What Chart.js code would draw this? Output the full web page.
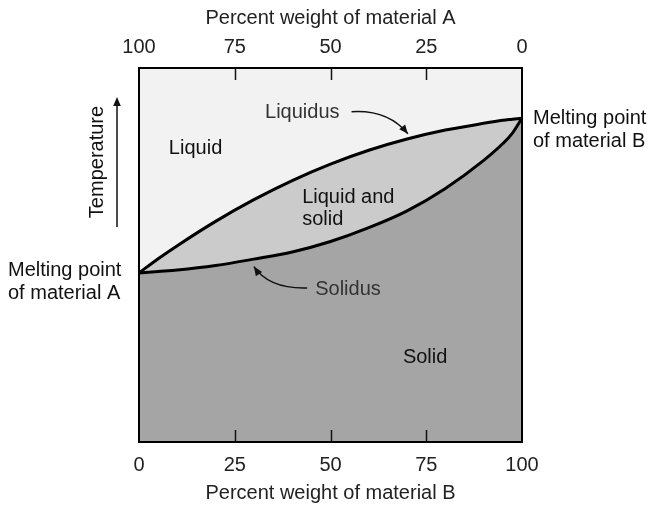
<!DOCTYPE html>
<html>
<head>
<meta charset="utf-8">
<script src="https://cdn.jsdelivr.net/npm/chart.js@4/dist/chart.umd.min.js"></script>
<style>
html,body{margin:0;padding:0;background:#fff;}
canvas{display:block;}
</style>
</head>
<body>
<canvas id="c" width="657" height="511"></canvas>
<script>
// Percent weight of material B (x) and relative temperature (y, 0..100)
const percentB = [0, 5, 10, 20, 30, 40, 50, 60, 70, 80, 90, 95, 97.5, 100];
const liquidus = [45.2, 49.0, 52.5, 59.0, 64.8, 69.9, 74.3, 78.0, 81.0, 83.4, 85.2, 86.0, 86.3, 86.6];
const solidus  = [45.2, 45.6, 46.0, 47.2, 48.9, 50.8, 53.6, 57.3, 61.8, 67.8, 75.3, 79.8, 82.6, 86.6];
const tickValues = [0, 25, 50, 75, 100];

const FONT = '"Liberation Sans", Arial, Helvetica, sans-serif';
const C_LIQ = '#f2f2f2', C_MID = '#cbcbcb', C_SOL = '#a5a5a5';

function pts(ys){ return percentB.map((x,i)=>({x:x, y:ys[i]})); }

const decor = {
  id:'decor',
  beforeDraw(chart){
    const {ctx, chartArea:a} = chart;
    ctx.save();
    ctx.fillStyle = C_LIQ;
    ctx.fillRect(a.left, a.top, a.right-a.left, a.bottom-a.top);
    ctx.restore();
  },
  afterDraw(chart){
    const {ctx, chartArea:a} = chart;
    const xs = chart.scales.x, ys = chart.scales.y;
    const P = (xv,yv)=>[xs.getPixelForValue(xv), ys.getPixelForValue(yv)];
    ctx.save();
    // inward tick marks
    ctx.strokeStyle = '#111'; ctx.lineWidth = 1.5;
    tickValues.slice(1,-1).forEach(v=>{
      const px = Math.round(xs.getPixelForValue(v))+0.5;
      ctx.beginPath(); ctx.moveTo(px, a.bottom); ctx.lineTo(px, a.bottom-12); ctx.stroke();
      ctx.beginPath(); ctx.moveTo(px, a.top); ctx.lineTo(px, a.top+12); ctx.stroke();
    });
    // frame
    ctx.strokeStyle = '#000'; ctx.lineWidth = 2;
    ctx.strokeRect(a.left, a.top, a.right-a.left, a.bottom-a.top);

    // labels inside plot
    ctx.font = '20px ' + FONT;
    ctx.textBaseline = 'middle'; ctx.textAlign = 'left';
    ctx.fillStyle = '#111';
    let p;
    p = P(7.8, 78.6); ctx.fillText('Liquid', p[0], p[1]);
    p = P(42.6, 65.5); ctx.fillText('Liquid and', p[0], p[1]);
    p = P(42.6, 59.4); ctx.fillText('solid', p[0], p[1]);
    p = P(68.9, 22.5); ctx.fillText('Solid', p[0], p[1]);
    ctx.fillStyle = '#333';
    p = P(32.9, 88.2); ctx.fillText('Liquidus', p[0], p[1]);
    p = P(46.0, 40.9); ctx.fillText('Solidus', p[0], p[1]);

    function head(x,y,ang){
      const L=9, W=3.8;
      ctx.beginPath();
      ctx.moveTo(x,y);
      ctx.lineTo(x-L*Math.cos(ang)+W*Math.sin(ang), y-L*Math.sin(ang)-W*Math.cos(ang));
      ctx.lineTo(x-L*Math.cos(ang)-W*Math.sin(ang), y-L*Math.sin(ang)+W*Math.cos(ang));
      ctx.closePath(); ctx.fill();
    }
    function curveArrow(s, c, e){
      const S=P(s[0],s[1]), Cc=P(c[0],c[1]), E=P(e[0],e[1]);
      ctx.strokeStyle='#111'; ctx.fillStyle='#111'; ctx.lineWidth=1.5;
      ctx.beginPath(); ctx.moveTo(S[0],S[1]); ctx.quadraticCurveTo(Cc[0],Cc[1],E[0],E[1]); ctx.stroke();
      head(E[0],E[1],Math.atan2(E[1]-Cc[1], E[0]-Cc[0]));
    }
    curveArrow([55.5,88.3],[65.0,88.9],[70.2,82.4]);
    curveArrow([43.9,41.2],[34.0,40.9],[30.0,46.9]);

    // outside labels
    ctx.fillStyle = '#111';
    const mA = ys.getPixelForValue(liquidus[0]);
    const mB = ys.getPixelForValue(liquidus[liquidus.length-1]);
    ctx.textAlign='left';
    ctx.fillText('Melting point', 8, mA-2);
    ctx.fillText('of material A', 8, mA+21);
    ctx.fillText('Melting point', a.right+11, mB);
    ctx.fillText('of material B', a.right+11, mB+23);

    // Temperature label + arrow
    ctx.save();
    ctx.translate(a.left-42, (a.top+a.bottom)/2 - 93);
    ctx.rotate(-Math.PI/2);
    ctx.textAlign='center'; ctx.textBaseline='middle';
    ctx.fillText('Temperature', 0, 0);
    ctx.restore();
    const ax = a.left-22;
    ctx.strokeStyle='#111'; ctx.lineWidth=1.5;
    ctx.beginPath(); ctx.moveTo(ax, a.top+159); ctx.lineTo(ax, a.top+36); ctx.stroke();
    ctx.fillStyle='#111';
    head(ax, a.top+29, -Math.PI/2);
    ctx.restore();
  }
};

new Chart(document.getElementById('c'), {
  type:'line',
  data:{
    datasets:[
      { label:'Solidus', data:pts(solidus), borderColor:'#000', borderWidth:3,
        backgroundColor:C_SOL, fill:'start', pointRadius:0, cubicInterpolationMode:'monotone' },
      { label:'Liquidus', data:pts(liquidus), borderColor:'#000', borderWidth:3,
        backgroundColor:C_MID, fill:'-1', pointRadius:0, cubicInterpolationMode:'monotone' }
    ]
  },
  options:{
    responsive:false, animation:false, devicePixelRatio:1,
    layout:{ padding:{ left:139, right:135, top:6, bottom:6 } },
    plugins:{ legend:{display:false}, tooltip:{enabled:false} },
    scales:{
      x:{ type:'linear', position:'bottom', min:0, max:100,
          afterBuildTicks(s){ s.ticks = tickValues.map(v=>({value:v})); },
          afterFit(s){ s.height = 63; },
          grid:{ drawOnChartArea:false, drawTicks:false }, border:{display:false},
          ticks:{ padding:11, color:'#222', font:{family:FONT, size:20} },
          title:{ display:true, text:'Percent weight of material B', color:'#222',
                  font:{family:FONT, size:20}, padding:{top:4, bottom:0} } },
      x2:{ type:'linear', position:'top', min:0, max:100, reverse:true,
          afterBuildTicks(s){ s.ticks = tickValues.map(v=>({value:v})); },
          afterFit(s){ s.height = 62; },
          grid:{ drawOnChartArea:false, drawTicks:false }, border:{display:false},
          ticks:{ padding:9, color:'#222', font:{family:FONT, size:20} },
          title:{ display:true, text:'Percent weight of material A', color:'#222',
                  font:{family:FONT, size:20}, padding:{top:0, bottom:5} } },
      y:{ type:'linear', min:0, max:100, display:false }
    }
  },
  plugins:[decor]
});
</script>
</body>
</html>
